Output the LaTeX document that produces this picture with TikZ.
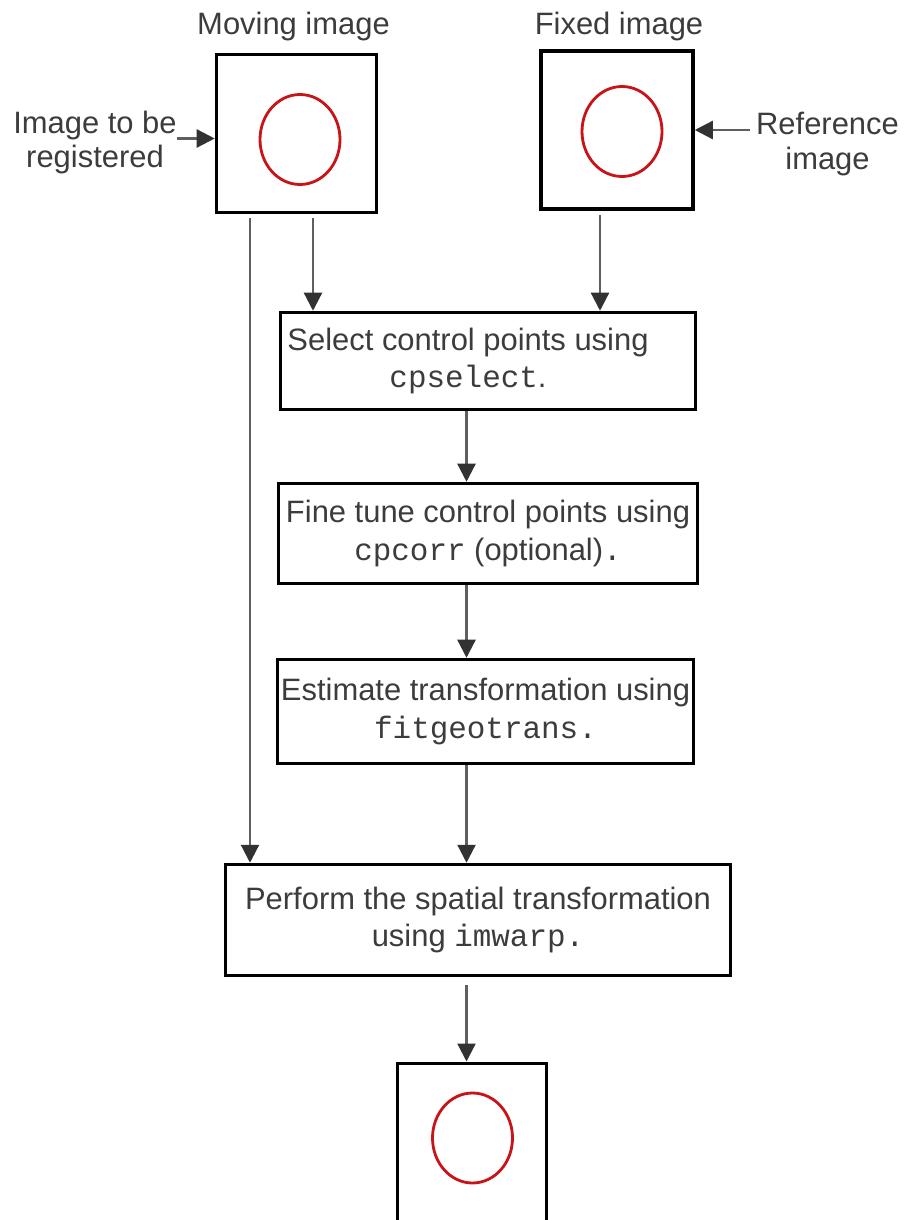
\documentclass[tikz,border=0pt]{standalone}
\usepackage{fontspec}
\setmainfont{Liberation Sans}
\setmonofont{Liberation Mono}
\usetikzlibrary{arrows.meta}
\definecolor{txtgray}{RGB}{60,60,60}
\definecolor{linegray}{RGB}{95,95,95}
\definecolor{tipgray}{RGB}{50,50,50}
\definecolor{ringred}{RGB}{200,20,25}

\begin{document}
\begin{tikzpicture}[>={Triangle[length=0.36cm,width=0.36cm,color=tipgray]},
		font=\fontsize{17.6}{21.6}\selectfont,
		imgbox/.style={draw, line width=2pt, minimum width=3.1cm, minimum height=3.16cm},
		stepbox/.style={draw, line width=2pt, align=center, text=txtgray, inner sep=0pt},
		side/.style={align=center, text=txtgray, inner sep=0pt, font=\fontsize{17.6}{19.9}\selectfont},
		ring/.style={draw=ringred, line width=1.6pt},
		arr/.style={->, draw=linegray, line width=1.3pt}]
		\clip (0,0) rectangle (18.18,-24.4);
		% input images
		\node[side, anchor=base] (movlabel) at (5.87,-0.70) {Moving image};
		\node[side, anchor=base] (fixlabel) at (12.38,-0.70) {Fixed image};
		\node[imgbox, minimum width=3.2cm] (moving) at (5.93,-2.67) {};
		\node[imgbox, minimum width=3.04cm] (fixed) at (12.34,-2.60) {};
		\draw[ring] (6.0,-2.79) ellipse (0.8 and 0.9);
		\draw[ring] (12.44,-2.63) ellipse (0.8 and 0.9);
		\node[side] (reg) at (1.9,-2.85) {Image to be\\registered};
		\node[side] (ref) at (16.55,-2.89) {Reference\\image};
		\draw[arr] ([yshift=-0.1cm]moving.west -| reg.east) -- ([yshift=-0.1cm]moving.west);
		\draw[arr, shorten <=0.12cm] (fixed.east -| ref.west) -- (fixed.east);
		% processing steps
		\coordinate (spine) at (9.33,0);
		\node[stepbox, minimum width=8.3cm, minimum height=1.94cm] (select) at (9.76,-7.22)
			{Select control points using\hspace*{0.8cm}\\\texttt{cpselect}.\hspace*{0.8cm}};
		\node[stepbox, minimum width=8.38cm, minimum height=2.0cm] (fine) at (9.76,-10.67)
			{Fine tune control points using\\\texttt{cpcorr} (optional)\texttt{.}};
		\node[stepbox, minimum width=8.32cm, minimum height=2.08cm] (est) at (9.71,-14.23)
			{Estimate transformation using\\\texttt{fitgeotrans.}};
		\node[stepbox, minimum width=10.1cm, minimum height=2.22cm] (perform) at (9.56,-18.40)
			{Perform the spatial transformation\\using \texttt{imwarp.}};
		% registered image
		\node[imgbox, minimum width=2.98cm, minimum height=3.4cm, anchor=north] (out) at (9.44,-21.23) {};
		\draw[ring] (9.45,-22.76) ellipse (0.8 and 0.9);
		% connectors
		\draw[arr, shorten <=0.08cm] ([xshift=0.33cm]moving.south) -- ([xshift=0.33cm]moving.south |- select.north);
		\draw[arr, shorten <=0.08cm] ([xshift=-0.34cm]fixed.south) -- ([xshift=-0.34cm]fixed.south |- select.north);
		\draw[arr, shorten <=0.08cm] ([xshift=-0.93cm]moving.south) -- ([xshift=-0.93cm]moving.south |- perform.north);
		\draw[arr] (select.south -| spine) -- (fine.north -| spine);
		\draw[arr] (fine.south -| spine) -- (est.north -| spine);
		\draw[arr] (est.south -| spine) -- (perform.north -| spine);
		\draw[arr, shorten <=0.16cm] (perform.south -| spine) -- (out.north -| spine);
	\end{tikzpicture}
\end{document}
